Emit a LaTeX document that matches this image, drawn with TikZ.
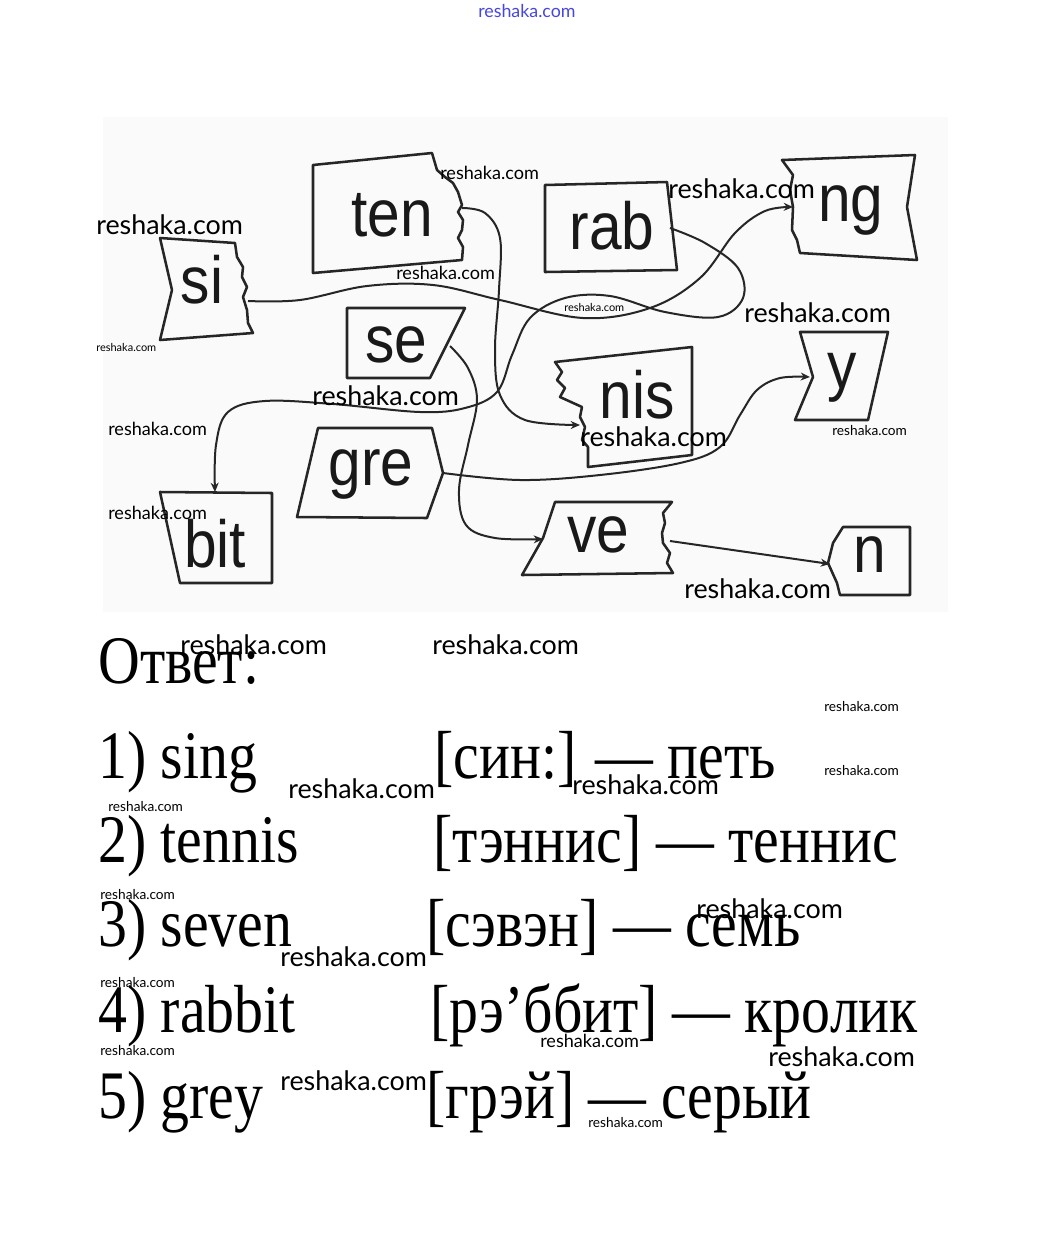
\documentclass[tikz,border=0pt]{standalone}
\usepackage{fontspec}
\setmainfont{Liberation Serif}
\newfontfamily\ansfont[FakeStretch=0.85]{Liberation Serif}
\newfontfamily\lblfont[FakeStretch=0.88]{Liberation Sans}
\newfontfamily\wmfont{Lato}
\usetikzlibrary{arrows.meta}
\definecolor{wmblue}{RGB}{70,70,225}
\newcommand{\wmL}{\resizebox{110pt}{!}{\wmfont reshaka.com}}
\newcommand{\wmM}{\resizebox{74pt}{!}{\wmfont reshaka.com}}
\newcommand{\wmS}{\resizebox{56pt}{!}{\wmfont reshaka.com}}
\newcommand{\wmT}{\resizebox{45pt}{!}{\wmfont reshaka.com}}
\begin{document}
\begin{tikzpicture}[x=0.75pt,y=-0.75pt,
  card/.style={draw=black!85,line width=1.9pt,line join=round},
  lbl/.style={font=\lblfont\fontsize{50}{50}\selectfont,text=black!90,inner sep=0pt,anchor=base},
  conn/.style={draw=black!85,line width=1.5pt,-{Stealth[length=7pt,width=6pt]}},
  ans/.style={font=\ansfont\fontsize{51}{51}\selectfont,inner sep=0pt,anchor=base west},
  wm/.style={inner sep=0pt,anchor=west}]
\path[use as bounding box] (0,0) rectangle (1052,1243);
\fill[black!2] (103,117) rectangle (948,612);

% cards
\draw[card] (160,238) -- (235,243) -- (237,257) -- (243,267) -- (242,277) -- (247,287) -- (243,297) -- (247,310) -- (248,323) -- (253,333) -- (160,340) -- (172,290) -- cycle;
\draw[card] (313,165) -- (432,153) -- (437,170) -- (445,177) -- (453,183) -- (458,192) -- (462,205) -- (458,212) -- (463,220) -- (462,230) -- (458,238) -- (463,247) -- (462,260) -- (313,273) -- cycle;
\draw[card] (545,185) -- (667,182) -- (677,270) -- (545,272) -- cycle;
\draw[card] (782,160) -- (915,155) -- (907,207) -- (917,260) -- (800,253) -- (797,240) -- (792,230) -- (793,207) -- (790,190) -- (793,175) -- cycle;
\draw[card] (347,308) -- (465,308) -- (430,378) -- (347,378) -- cycle;
\draw[card] (555,362) -- (692,347) -- (692,455) -- (588,467) -- (588,447) -- (582,440) -- (585,427) -- (580,417) -- (582,407) -- (560,397) -- (565,388) -- (557,380) -- (562,372) -- cycle;
\draw[card] (800,332) -- (888,332) -- (868,420) -- (795,420) -- (813,377) -- cycle;
\draw[card] (318,428) -- (432,428) -- (443,473) -- (427,518) -- (297,517) -- cycle;
\draw[card] (160,492) -- (272,493) -- (272,583) -- (180,583) -- cycle;
\draw[card] (555,502) -- (672,502) -- (663,513) -- (665,523) -- (662,533) -- (663,543) -- (670,553) -- (667,563) -- (673,573) -- (522,575) -- (543,538) -- cycle;
\draw[card] (843,527) -- (910,527) -- (910,595) -- (840,595) -- (837,583) -- (828,563) -- (833,543) -- cycle;

% labels
\node[lbl] (si)  at (202,303) {si};
\node[lbl] (ten) at (392,236) {ten};
\node[lbl] (rab) at (612,249) {rab};
\node[lbl] (ng)  at (851,221) {ng};
\node[lbl] (se)  at (396,362) {se};
\node[lbl] (nis) at (637,418) {nis};
\node[lbl] (y)   at (842,388) {y};
\node[lbl] (gre) at (371,485) {gre};
\node[lbl] (bit) at (215,567) {bit};
\node[lbl] (ve)  at (598,552) {ve};
\node[lbl] (n)   at (870,572) {n};

% connector ends
\coordinate (si-o) at (248,301);
\coordinate (ng-i) at (793,207);
\coordinate (rab-o) at (670,228);
\coordinate (bit-i) at (215,492);
\coordinate (ten-o) at (462,208);
\coordinate (nis-i) at (580,425);
\coordinate (se-o) at (450,346);
\coordinate (ve-i) at (543,539);
\coordinate (gre-o) at (443,473);
\coordinate (y-i) at (810,377);
\coordinate (ve-o) at (670,541);
\coordinate (n-i) at (830,564);

\draw[conn] plot[smooth,tension=0.6] coordinates {(si-o) (300,300) (367,286) (433,285) (500,300) (583,318) (650,308) (700,278) (735,233) (765,211) (ng-i)};
\draw[conn] plot[smooth,tension=0.6] coordinates {(rab-o) (705,243) (738,268) (743,298) (718,317) (665,312) (610,296) (565,298) (530,318) (512,355) (497,392) (465,408) (420,412) (333,404) (265,401) (228,412) (216,445) (bit-i)};
\draw[conn] plot[smooth,tension=0.6] coordinates {(ten-o) (485,213) (500,238) (499,290) (495,350) (500,395) (525,420) (nis-i)};
\draw[conn] plot[smooth,tension=0.6] coordinates {(se-o) (468,368) (477,400) (468,445) (459,490) (466,525) (495,538) (ve-i)};
\draw[conn] plot[smooth,tension=0.6] coordinates {(gre-o) (520,480) (600,475) (680,463) (720,447) (740,415) (757,390) (780,378) (y-i)};
\draw[conn] (ve-o) -- (n-i);

% answer text
\node[ans,font=\ansfont\fontsize{51}{51}\selectfont] (otvet) at (98,683) {Ответ:};
\node[ans] (a1) at (98,778) {1) sing};
\node[ans] (b1) at (434,778) {[син:] — петь};
\node[ans] (a2) at (98,862) {2) tennis};
\node[ans] (b2) at (433,862) {[тэннис] — теннис};
\node[ans] (a3) at (98,946) {3) seven};
\node[ans] (b3) at (426,946) {[сэвэн] — семь};
\node[ans] (a4) at (98,1032) {4) rabbit};
\node[ans] (b4) at (430,1032) {[рэ’ббит] — кролик};
\node[ans] (a5) at (98,1118) {5) grey};
\node[ans] (b5) at (426,1118) {[грэй] — серый};

% watermarks
\node[wm,text=wmblue] (w0) at (478,11) {\resizebox{73pt}{!}{\wmfont reshaka.com}};
\node[wm] (w1) at (96,225) {\wmL};
\node[wm] (w2) at (440,173) {\wmM};
\node[wm] (w3) at (668,189) {\wmL};
\node[wm] (w4) at (396,273) {\wmM};
\node[wm] (w5) at (564,307) {\wmT};
\node[wm] (w6) at (96,347) {\wmT};
\node[wm] (w7) at (744,313) {\wmL};
\node[wm] (w8) at (312,396) {\wmL};
\node[wm] (w9) at (108,429) {\wmM};
\node[wm] (w10) at (580,437) {\wmL};
\node[wm] (w11) at (832,431) {\wmS};
\node[wm] (w12) at (108,513) {\wmM};
\node[wm] (w13) at (684,589) {\wmL};
\node[wm] (w14) at (180,645) {\wmL};
\node[wm] (w15) at (432,645) {\wmL};
\node[wm] (w16) at (824,707) {\wmS};
\node[wm] (w17) at (824,771) {\wmS};
\node[wm] (w18) at (288,789) {\wmL};
\node[wm] (w19) at (572,785) {\wmL};
\node[wm] (w20) at (108,807) {\wmS};
\node[wm] (w21) at (100,895) {\wmS};
\node[wm] (w22) at (696,909) {\wmL};
\node[wm] (w23) at (280,957) {\wmL};
\node[wm] (w24) at (100,983) {\wmS};
\node[wm] (w25) at (540,1041) {\wmM};
\node[wm] (w26) at (100,1051) {\wmS};
\node[wm] (w27) at (768,1057) {\wmL};
\node[wm] (w28) at (280,1081) {\wmL};
\node[wm] (w29) at (588,1123) {\wmS};
\end{tikzpicture}
\end{document}
